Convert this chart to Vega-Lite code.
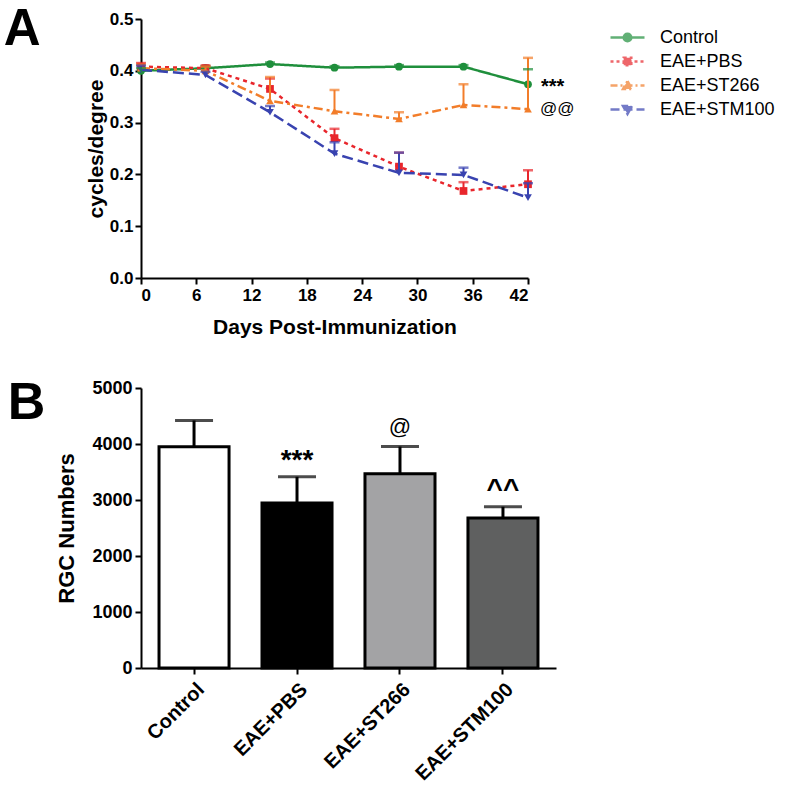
{
  "$schema": "https://vega.github.io/schema/vega-lite/v6.json",
  "background": "white",
  "padding": {"left": 3, "top": 4, "right": 5, "bottom": 5},
  "spacing": 40,
  "config": {
    "font": "Liberation Sans",
    "view": {"stroke": null},
    "axis": {
      "grid": false,
      "domainColor": "black", "domainWidth": 2,
      "tickColor": "black", "tickWidth": 2, "tickSize": 6,
      "labelColor": "black", "labelFont": "Liberation Sans", "labelFontWeight": "bold", "labelFontSize": 17,
      "titleColor": "black", "titleFont": "Liberation Sans", "titleFontWeight": "bold"
    }
  },
  "vconcat": [
    {
      "width": 387,
      "height": 259,
      "title": {"text": "A", "orient": "left", "angle": 0, "anchor": "end", "align": "right", "baseline": "top", "fontSize": 51, "fontWeight": "bold", "font": "Liberation Sans", "color": "black", "offset": 8, "dy": -5},
      "data": {"values": [
        {"day": 0, "group": "Control", "value": 0.400, "upper": 0.405},
        {"day": 7, "group": "Control", "value": 0.405, "upper": 0.409},
        {"day": 14, "group": "Control", "value": 0.413, "upper": 0.416},
        {"day": 21, "group": "Control", "value": 0.406, "upper": 0.409},
        {"day": 28, "group": "Control", "value": 0.408, "upper": 0.411},
        {"day": 35, "group": "Control", "value": 0.408, "upper": 0.411},
        {"day": 42, "group": "Control", "value": 0.374, "upper": 0.403},
        {"day": 0, "group": "EAE+PBS", "value": 0.408, "upper": 0.415},
        {"day": 7, "group": "EAE+PBS", "value": 0.405, "upper": 0.410},
        {"day": 14, "group": "EAE+PBS", "value": 0.365, "upper": 0.385},
        {"day": 21, "group": "EAE+PBS", "value": 0.270, "upper": 0.288},
        {"day": 28, "group": "EAE+PBS", "value": 0.215, "upper": 0.242},
        {"day": 35, "group": "EAE+PBS", "value": 0.168, "upper": 0.185},
        {"day": 42, "group": "EAE+PBS", "value": 0.181, "upper": 0.208},
        {"day": 0, "group": "EAE+ST266", "value": 0.405, "upper": 0.412},
        {"day": 7, "group": "EAE+ST266", "value": 0.400, "upper": 0.408},
        {"day": 14, "group": "EAE+ST266", "value": 0.342, "upper": 0.388},
        {"day": 21, "group": "EAE+ST266", "value": 0.322, "upper": 0.363},
        {"day": 28, "group": "EAE+ST266", "value": 0.307, "upper": 0.320},
        {"day": 35, "group": "EAE+ST266", "value": 0.334, "upper": 0.374},
        {"day": 42, "group": "EAE+ST266", "value": 0.326, "upper": 0.425},
        {"day": 0, "group": "EAE+STM100", "value": 0.402, "upper": 0.410},
        {"day": 7, "group": "EAE+STM100", "value": 0.392, "upper": 0.398},
        {"day": 14, "group": "EAE+STM100", "value": 0.320, "upper": 0.332},
        {"day": 21, "group": "EAE+STM100", "value": 0.240, "upper": 0.262},
        {"day": 28, "group": "EAE+STM100", "value": 0.203, "upper": 0.242},
        {"day": 35, "group": "EAE+STM100", "value": 0.199, "upper": 0.213},
        {"day": 42, "group": "EAE+STM100", "value": 0.155, "upper": 0.183}
      ]},
      "layer": [
        {
          "mark": {"type": "point", "filled": true, "size": 60, "opacity": 1},
          "encoding": {
            "x": {"field": "day", "type": "quantitative", "scale": {"domain": [0, 42], "nice": false}, "axis": {"values": [0, 6, 12, 18, 24, 30, 36, 42], "title": "Days Post-Immunization", "titleFontSize": 21, "titlePadding": 13, "labelPadding": 3}},
            "y": {"field": "value", "type": "quantitative", "scale": {"domain": [0, 0.5], "nice": false}, "axis": {"values": [0, 0.1, 0.2, 0.3, 0.4, 0.5], "format": ".1f", "title": "cycles/degree", "titleFontSize": 21, "titlePadding": 3, "labelPadding": 2}},
            "color": {
              "field": "group", "type": "nominal",
              "scale": {"domain": ["Control", "EAE+PBS", "EAE+ST266", "EAE+STM100"], "range": ["#1f8f3c", "#e8262c", "#f27d2a", "#3943b0"]},
              "legend": {
                "title": null, "orient": "none", "legendX": 475, "legendY": 7, "padding": 0,
                "labelFontSize": 18, "labelFontWeight": "normal", "labelFont": "Liberation Sans", "labelColor": "black",
                "symbolSize": 400, "symbolStrokeWidth": 2.5, "labelOffset": 21, "rowPadding": 3, "symbolOpacity": 1,
                "symbolType": {"expr": "datum.value === 'Control' ? 'M-1.7,0H1.7M-0.38,0A0.38,0.38 0 1,0 0.38,0A0.38,0.38 0 1,0 -0.38,0' : datum.value === 'EAE+PBS' ? 'M-1.7,0H1.7M-0.38,-0.38H0.38V0.38H-0.38Z' : datum.value === 'EAE+ST266' ? 'M-1.7,0H1.7M0,-0.45L0.45,0.35H-0.45Z' : 'M-1.7,0H1.7M0,0.45L0.45,-0.35H-0.45Z'"},
                "symbolDash": {"expr": "datum.value === 'Control' ? [] : datum.value === 'EAE+PBS' ? [3, 3] : datum.value === 'EAE+ST266' ? [7, 3, 2, 3] : [9, 4]"},
                "symbolStrokeColor": {"expr": "datum.value === 'Control' ? '#1f8f3c' : datum.value === 'EAE+PBS' ? '#e8262c' : datum.value === 'EAE+ST266' ? '#f27d2a' : '#3943b0'"},
                "symbolFillColor": {"expr": "datum.value === 'Control' ? '#1f8f3c' : datum.value === 'EAE+PBS' ? '#e8262c' : datum.value === 'EAE+ST266' ? '#f27d2a' : '#3943b0'"}
              }
            },
            "shape": {"field": "group", "type": "nominal", "scale": {"range": ["circle", "square", "triangle-up", "triangle-down"]}, "legend": null}
          }
        },
        {
          "mark": {"type": "line", "strokeWidth": 2.5},
          "encoding": {
            "x": {"field": "day", "type": "quantitative"},
            "y": {"field": "value", "type": "quantitative"},
            "color": {"field": "group", "type": "nominal"},
            "strokeDash": {"field": "group", "type": "nominal", "scale": {"range": [[1, 0], [4, 4], [9, 4, 3, 4], [11, 5]]}, "legend": null}
          }
        },
        {
          "mark": {"type": "rule", "strokeWidth": 2},
          "encoding": {
            "x": {"field": "day", "type": "quantitative"},
            "y": {"field": "value", "type": "quantitative"},
            "y2": {"field": "upper"},
            "color": {"field": "group", "type": "nominal"}
          }
        },
        {
          "mark": {"type": "tick", "orient": "horizontal", "size": 10, "thickness": 2.5},
          "encoding": {
            "x": {"field": "day", "type": "quantitative"},
            "y": {"field": "upper", "type": "quantitative"},
            "color": {"field": "group", "type": "nominal"}
          }
        },
        {
          "data": {"values": [{"day": 42, "value": 0.374, "label": "***"}]},
          "mark": {"type": "text", "align": "left", "baseline": "middle", "dx": 13, "dy": 3, "fontSize": 20, "fontWeight": "bold", "color": "black", "font": "Liberation Sans"},
          "encoding": {
            "x": {"field": "day", "type": "quantitative"},
            "y": {"field": "value", "type": "quantitative"},
            "text": {"field": "label"}
          }
        },
        {
          "data": {"values": [{"day": 42, "value": 0.326, "label": "@@"}]},
          "mark": {"type": "text", "align": "left", "baseline": "middle", "dx": 12, "dy": 0, "fontSize": 17, "fontWeight": "normal", "color": "black", "font": "Liberation Sans"},
          "encoding": {
            "x": {"field": "day", "type": "quantitative"},
            "y": {"field": "value", "type": "quantitative"},
            "text": {"field": "label"}
          }
        }
      ]
    },
    {
      "width": 415,
      "height": 280,
      "title": {"text": "B", "orient": "left", "angle": 0, "anchor": "end", "align": "right", "baseline": "top", "fontSize": 52, "fontWeight": "bold", "font": "Liberation Sans", "color": "black", "offset": -27, "dy": -1},
      "data": {"values": [
        {"group": "Control", "value": 3950, "upper": 4420, "label": ""},
        {"group": "EAE+PBS", "value": 2945, "upper": 3415, "label": "***"},
        {"group": "EAE+ST266", "value": 3470, "upper": 3955, "label": "@"},
        {"group": "EAE+STM100", "value": 2680, "upper": 2880, "label": "^^"}
      ]},
      "encoding": {
        "x": {"field": "group", "type": "nominal", "sort": null, "scale": {"paddingInner": 0.32, "paddingOuter": 0.175}, "axis": {"title": null, "labelAngle": -45, "labelFontSize": 20, "labelPadding": 5}}
      },
      "layer": [
        {
          "mark": {"type": "bar", "stroke": "black", "strokeWidth": 3},
          "encoding": {
            "y": {"field": "value", "type": "quantitative", "scale": {"domain": [0, 5000], "nice": false}, "axis": {"values": [0, 1000, 2000, 3000, 4000, 5000], "format": "d", "title": "RGC Numbers", "titleFontSize": 22, "titlePadding": 13, "labelFontSize": 18, "labelPadding": 3}},
            "fill": {"field": "group", "type": "nominal", "scale": {"domain": ["Control", "EAE+PBS", "EAE+ST266", "EAE+STM100"], "range": ["#ffffff", "#000000", "#a3a3a5", "#5f6060"]}, "legend": null}
          }
        },
        {
          "mark": {"type": "rule", "strokeWidth": 3, "color": "black"},
          "encoding": {
            "y": {"field": "value", "type": "quantitative"},
            "y2": {"field": "upper"}
          }
        },
        {
          "mark": {"type": "tick", "orient": "horizontal", "size": 38, "thickness": 3, "color": "black"},
          "encoding": {
            "y": {"field": "upper", "type": "quantitative"}
          }
        },
        {
          "transform": [{"filter": "datum.label === '***'"}],
          "mark": {"type": "text", "baseline": "middle", "dy": -16, "fontSize": 28, "fontWeight": "bold", "color": "black", "font": "Liberation Sans"},
          "encoding": {
            "y": {"field": "upper", "type": "quantitative"},
            "text": {"field": "label"}
          }
        },
        {
          "transform": [{"filter": "datum.label === '@'"}],
          "mark": {"type": "text", "baseline": "middle", "dy": -20, "fontSize": 22, "fontWeight": "normal", "color": "black", "font": "Liberation Sans"},
          "encoding": {
            "y": {"field": "upper", "type": "quantitative"},
            "text": {"field": "label"}
          }
        },
        {
          "transform": [{"filter": "datum.label === '^^'"}],
          "mark": {"type": "text", "baseline": "middle", "dy": -17, "fontSize": 28, "fontWeight": "bold", "color": "black", "font": "Liberation Sans"},
          "encoding": {
            "y": {"field": "upper", "type": "quantitative"},
            "text": {"field": "label"}
          }
        }
      ]
    }
  ]
}
